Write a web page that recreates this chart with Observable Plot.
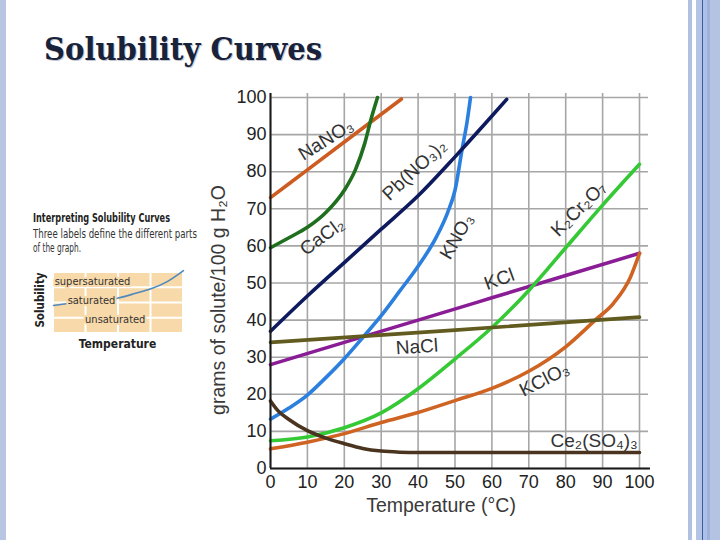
<!DOCTYPE html>
<html>
<head>
<meta charset="utf-8">
<script src="https://cdn.jsdelivr.net/npm/d3@7"></script>
<script src="https://cdn.jsdelivr.net/npm/@observablehq/plot@0.6"></script>
<style>
  html,body{margin:0;padding:0;background:#fff;}
  #slide{position:relative;width:720px;height:540px;overflow:hidden;background:#fff;}
  .band{position:absolute;top:0;height:540px;}
  #chart{position:absolute;left:200px;top:85px;}
  #inset{position:absolute;left:25px;top:262px;}
  #deco{position:absolute;left:0;top:0;}
</style>
</head>
<body>
<div id="slide">
  <div class="band" style="left:0;width:6px;background:#b8c6e4"></div>
  <div class="band" style="left:688px;width:4px;background:#afc0e0"></div>
  <div class="band" style="left:696px;width:6px;background:#b4c4e4"></div>
  <div class="band" style="left:702px;width:1px;background:#3d5c98"></div>
  <div class="band" style="left:703px;width:4px;background:#abc1ea"></div>
  <div class="band" style="left:707px;width:3px;background:#9fb1d9"></div>
  <div class="band" style="left:710px;width:10px;background:#b5c3e3"></div>
  <svg id="deco" width="720" height="260">
    <text x="45" y="61" fill="#c3c8d2" font-family="'DejaVu Serif Condensed','DejaVu Serif',serif" font-weight="bold" font-size="32" textLength="278" lengthAdjust="spacingAndGlyphs">Solubility Curves</text>
    <text x="44" y="60" fill="#18223a" font-family="'DejaVu Serif Condensed','DejaVu Serif',serif" font-weight="bold" font-size="32" textLength="278" lengthAdjust="spacingAndGlyphs">Solubility Curves</text>
    <text x="33" y="222" fill="#222" font-family="'Liberation Sans Narrow','DejaVu Sans Condensed',sans-serif" font-weight="bold" font-size="12.5" textLength="137" lengthAdjust="spacingAndGlyphs">Interpreting Solubility Curves</text>
    <text x="33" y="238" fill="#333" font-family="'Liberation Sans Narrow','DejaVu Sans Condensed',sans-serif" font-size="13" textLength="164" lengthAdjust="spacingAndGlyphs">Three labels define the different parts</text>
    <text x="33" y="252" fill="#333" font-family="'Liberation Sans Narrow','DejaVu Sans Condensed',sans-serif" font-size="13" textLength="48" lengthAdjust="spacingAndGlyphs">of the graph.</text>
  </svg>
  <div id="inset"></div>
  <div id="chart"></div>
</div>
<script>
// ---- main chart data (temperature °C, grams solute / 100 g H2O) ----
const xTicks = [0, 10, 20, 30, 40, 50, 60, 70, 80, 90, 100];
const yTicks = [0, 10, 20, 30, 40, 50, 60, 70, 80, 90, 100];

const kCl      = [[0,28],[20,34],[40,40],[60,46],[80,52],[100,58]];
const k2Cr2O7  = [[0,7.5],[10,8.5],[20,11],[30,15],[40,21.5],[50,29.5],[60,38],[70,48],[80,59.5],[90,71],[100,82]];
const kNO3     = [[0,13.3],[5,16.3],[10,19.8],[15,24.5],[20,29.6],[25,35.3],[30,41.2],[35,47.8],[40,54.5],[45,62.5],[48,69],[50,75],[52,86.5],[53.2,93],[54.2,100]];
const kClO3    = [[0,5.3],[10,7.1],[20,9.4],[30,12.4],[40,15.1],[50,18.3],[60,21.6],[70,26.2],[80,32.8],[88,40],[93,44.6],[97.5,51.5],[100,58]];
const naCl     = [[0,34],[50,37.3],[100,40.8]];
const ce2SO43  = [[0,18.2],[2,15.6],[5,13.2],[10,10.2],[15,8.2],[20,6.7],[25,5.4],[30,4.7],[35,4.4],[40,4.3],[70,4.3],[100,4.3]];
const naNO3    = [[0,73],[10,80.5],[20,88],[30,95.5],[35.5,99.6]];
const caCl2    = [[0,59.5],[5,62.2],[10,65],[15,69],[20,75],[23,80.5],[25.5,87.5],[27.2,94],[29,100]];
const pbNO32   = [[0,37],[10,46.5],[20,55.5],[30,64.5],[40,73.5],[50,84],[60,95],[64,99.5]];

const seriesNames = ["KCl","K2Cr2O7","KNO3","KClO3","NaCl","Ce2(SO4)3","NaNO3","CaCl2","Pb(NO3)2"];
const seriesData  = [kCl, k2Cr2O7, kNO3, kClO3, naCl, ce2SO43, naNO3, caCl2, pbNO32];
const seriesColors = ["#8a1c96","#36c936","#2b7fdf","#cf6322","#615b1f","#4a3420","#cd5c22","#1f6f1f","#0e1a5e"];

// curve labels
const labelText  = ["NaNO₃","CaCl₂","Pb(NO₃)₂","KNO₃","K₂Cr₂O₇","KCl","NaCl","KClO₃","Ce₂(SO₄)₃"];
const labelX     = [15.0, 14.0, 39.0, 50.5, 83.5, 62.0, 39.7, 74.2, 87.7];
const labelY     = [88.6, 62.5, 80.5, 62.5, 70.0, 51.0, 32.8, 24.0, 7.5];
const labelAngle = [-32, -36, -43, -60, -45, -20, -4, -27, 0];

const xLabel = "Temperature (°C)";
const yLabel = "grams of solute/100 g H₂O";

const font = '"Liberation Sans", Arial, sans-serif';

const lineMarks = seriesData.map((data, i) =>
  Plot.line(data, {x: d => d[0], y: d => d[1], stroke: seriesColors[i], strokeWidth: 3.6,
    curve: "monotone-x", strokeLinecap: "round", strokeLinejoin: "round"}));

const labelMarks = labelText.map((t, i) =>
  Plot.text([t], {x: () => labelX[i], y: () => labelY[i], text: d => d, rotate: labelAngle[i],
    fontSize: 19, fill: "#333"}));

const chart = Plot.plot({
  width: 460, height: 435,
  marginLeft: 70, marginRight: 21, marginTop: 12, marginBottom: 52,
  x: {domain: [0, 100]},
  y: {domain: [0, 100]},
  style: {fontFamily: font, background: "transparent", color: "#222", overflow: "visible"},
  marks: [
    Plot.gridX(xTicks, {stroke: "#a6a6a6", strokeOpacity: 1, strokeWidth: 1.6, insetTop: -4}),
    Plot.gridY(yTicks, {stroke: "#a6a6a6", strokeOpacity: 1, strokeWidth: 1.6, insetRight: -9}),
    ...lineMarks,
    Plot.ruleX([0], {stroke: "#1a1a1a", strokeWidth: 2, insetTop: -4}),
    Plot.ruleY([0], {stroke: "#1a1a1a", strokeWidth: 2, insetRight: -11}),
    Plot.axisX(xTicks, {tickSize: 0, tickPadding: 7, fontSize: 18, label: null, fill: "#222"}),
    Plot.axisY(yTicks, {tickSize: 0, tickPadding: 4, fontSize: 18, label: null, fill: "#222"}),
    Plot.text([xLabel], {frameAnchor: "bottom", textAnchor: "middle", lineAnchor: "middle", dx: -14, dy: 37, fontSize: 19.5, fill: "#3a3a3a"}),
    Plot.text([yLabel], {frameAnchor: "left", textAnchor: "middle", lineAnchor: "middle", rotate: -90, dx: -52, dy: 17, fontSize: 19.5, fill: "#3a3a3a"}),
    ...labelMarks
  ]
});
document.getElementById("chart").appendChild(chart);

// ---- inset diagram data ----
const insetCols = [0, 1, 2, 3];
const insetRows = [0, 1, 2, 3];
const insetCurve = [[0,1.84],[0.5,1.98],[1,2.1],[1.5,2.2],[2,2.33],[2.5,2.62],[3,2.94],[3.5,3.4],[4,4.12]];
const insetLabels = ["supersaturated", "saturated", "unsaturated"];
const insetLabelX = [1.2, 1.17, 1.9];
const insetLabelY = [3.4, 2.16, 0.92];

const cells = d3.cross(insetCols, insetRows).map(([c, r]) => ({c, r}));
const tan = "#f8d9a9";
const narrow = '"Liberation Sans Narrow", "DejaVu Sans Condensed", sans-serif';

const inset = Plot.plot({
  width: 175, height: 93,
  marginLeft: 28, marginRight: 17, marginTop: 10, marginBottom: 22,
  x: {domain: [0, 4], axis: null},
  y: {domain: [0, 4], axis: null},
  style: {fontFamily: narrow, background: "transparent", overflow: "visible"},
  marks: [
    Plot.rect(cells, {x1: d => d.c, x2: d => d.c + 1, y1: d => d.r, y2: d => d.r + 1, fill: tan, inset: 1}),
    Plot.line(insetCurve, {x: d => d[0], y: d => d[1], stroke: "#4f88bd", strokeWidth: 1.6, curve: "natural"}),
    Plot.text(insetLabels, {x: (d, i) => insetLabelX[i], y: (d, i) => insetLabelY[i], text: d => d,
      fontSize: 11, fill: "#333", stroke: tan, strokeWidth: 4}),
    Plot.text(["Solubility"], {frameAnchor: "left", textAnchor: "middle", lineAnchor: "middle", rotate: -90, dx: -13, dy: -3, fontSize: 11.5, fontWeight: "bold", fill: "#222"}),
    Plot.text(["Temperature"], {frameAnchor: "bottom", textAnchor: "middle", lineAnchor: "middle", dx: -1, dy: 11, fontSize: 12, fontWeight: "bold", fill: "#222"})
  ]
});
document.getElementById("inset").appendChild(inset);
</script>
</body>
</html>
